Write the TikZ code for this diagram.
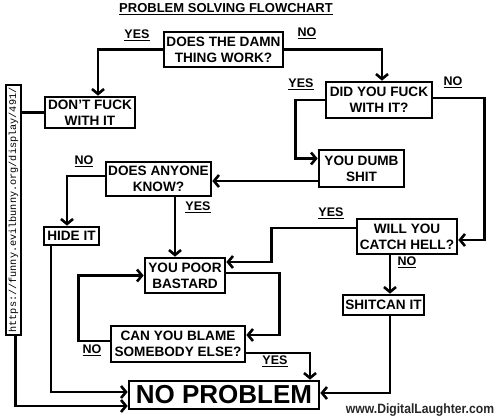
\documentclass[tikz,border=0pt]{standalone}
\usepackage{fontspec}
\setmainfont{Liberation Sans}
\setmonofont{Liberation Mono}
\usepackage{tikz}
\usetikzlibrary{arrows.meta}

\begin{document}
\begin{tikzpicture}[x=1pt,y=-1pt,
  box/.style={draw=black,line width=2.6pt,align=center,fill=white,inner sep=1pt,font=\fontsize{13.6}{16}\selectfont\bfseries},
  answer/.style={inner sep=0pt,font=\fontsize{12.5}{14}\selectfont\bfseries},
  arrow/.style={-{Straight Barb[length=5pt,width=12pt]},line width=2.6pt,draw=black},
  wire/.style={line width=2.6pt,draw=black}
]
\useasboundingbox (0,0) rectangle (501,420);

\node[font=\fontsize{13}{15}\selectfont\bfseries] (title) at (226,9) {\underline{PROBLEM SOLVING FLOWCHART}};

\node[box,minimum width=119pt,minimum height=35pt] (damn) at (223.5,49.5) {DOES THE DAMN\\THING WORK?};
\node[box,minimum width=90pt,minimum height=31pt] (dont) at (90,112.5) {DON{\char"0027}T FUCK\\WITH IT};
\node[box,minimum width=106pt,minimum height=36pt] (did) at (379,100) {DID YOU FUCK\\WITH IT?};
\node[box,minimum width=85pt,minimum height=37pt] (dumb) at (361.5,168.5) {YOU DUMB\\SHIT};
\node[box,minimum width=105pt,minimum height=34pt] (anyone) at (158.5,179) {DOES ANYONE\\KNOW?};
\node[box,minimum width=55pt,minimum height=18pt] (hide) at (71.5,236) {HIDE IT};
\node[box,minimum width=100pt,minimum height=35pt] (hell) at (407,236.5) {WILL YOU\\CATCH HELL?};
\node[box,minimum width=80pt,minimum height=35pt] (poor) at (185,275.5) {YOU POOR\\BASTARD};
\node[box,minimum width=134pt,minimum height=36pt] (blame) at (178,344) {CAN YOU BLAME\\SOMEBODY ELSE?};
\node[box,minimum width=81pt,minimum height=20pt] (shitcan) at (383.5,305) {SHITCAN IT};
\node[box,minimum width=190pt,minimum height=28pt,font=\fontsize{26}{28}\selectfont\bfseries] (noprob) at (224,395) {NO PROBLEM};

% connectors
\draw[arrow] (damn.west) -| ([xshift=8pt]dont.north);
\draw[arrow] (damn.east) -| ([xshift=3pt]did.north);
\draw[arrow] (did.west) -- ++(-29,0) |- ([yshift=10pt]dumb.west);
\draw[arrow] ([yshift=2pt]did.east) -- ++(51,0) |- ([yshift=-3.5pt]hell.east);
\draw[arrow] ([yshift=-12.5pt]dumb.west) -- ([yshift=-12.5pt]dumb.west -| anyone.east);
\draw[arrow] ([yshift=3pt]anyone.west) -| ([xshift=-4.5pt]hide.north);
\draw[arrow] ([xshift=16.5pt]anyone.south) -- ([xshift=16.5pt]anyone.south |- poor.north);
\draw[arrow] ([yshift=8.5pt]hell.west) -- ++(-84,0) |- ([yshift=13.5pt]poor.east);
\draw[arrow] ([yshift=2.5pt]poor.east) -- ++(53,0) |- ([yshift=9pt]blame.east);
\draw[arrow] ([yshift=3pt]blame.west) -- ++(-31,0) |- (poor.west);
\draw[arrow] ([yshift=-9pt]blame.east) -| ([xshift=86pt]noprob.north);
\draw[arrow] ([xshift=-20.5pt]hide.south) |- ([yshift=3pt]noprob.west);
\draw[arrow] (dont.west) -- ++(-28,0) |- ([yshift=-11pt]noprob.west);
\draw[arrow] ([xshift=6.5pt]shitcan.south) |- ([yshift=2pt]noprob.east);
\draw[arrow] ([xshift=-17pt]hell.south) -- ([xshift=-17pt]hell.south |- shitcan.north);

% answers
\node[answer] (yes1) at (137,35) {\underline{YES}};
\node[answer] (no1) at (307,33) {\underline{NO}};
\node[answer] (yes2) at (301,84) {\underline{YES}};
\node[answer] (no2) at (453,82) {\underline{NO}};
\node[answer] (no3) at (84,161) {\underline{NO}};
\node[answer] (yes3) at (198,207) {\underline{YES}};
\node[answer] (yes4) at (331,213) {\underline{YES}};
\node[answer] (no4) at (407,262) {\underline{NO}};
\node[answer] (no5) at (92,350) {\underline{NO}};
\node[answer] (yes5) at (275,361) {\underline{YES}};

\node[draw=black,line width=1.4pt,fill=white,rotate=90,inner sep=0pt,minimum width=250pt,minimum height=15pt,font=\fontsize{10.2}{12}\ttfamily] (url) at (13.5,210) {https://funny.evilbunny.org/display/491/};

\node[font=\fontsize{13.5}{15}\selectfont\bfseries,xscale=0.9,text=black!85] (site) at (420,410) {www.DigitalLaughter.com};
\end{tikzpicture}
\end{document}
